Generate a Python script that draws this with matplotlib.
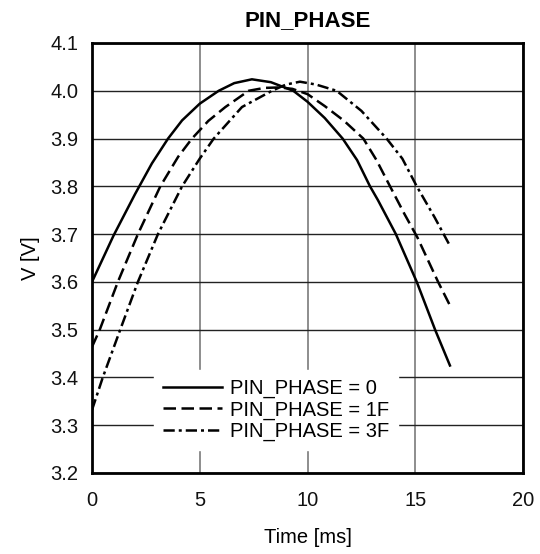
import matplotlib
matplotlib.use("Agg")
import matplotlib.pyplot as plt

plt.rcParams['font.family'] = ['Liberation Sans', 'DejaVu Sans']

# Data
t_solid = [0, 1, 2, 2.78, 3.53, 4.18, 5, 5.88, 6.6, 7.42, 8.3, 9.34, 10, 10.8,
           11.63, 12.3, 12.9, 13.27, 14.1, 15.07, 15.92, 16.61]
v_solid = [3.600, 3.697, 3.784, 3.848, 3.900, 3.938, 3.973, 4.000, 4.016, 4.024,
           4.018, 4.000, 3.977, 3.943, 3.900, 3.855, 3.800, 3.771, 3.700, 3.600,
           3.500, 3.425]

t_1f = [0, 0.36, 1.2, 2.13, 3.17, 4.0, 4.64, 5.4, 6.19, 7.27, 8.0, 8.7, 9.3, 10.0,
        10.8, 11.7, 12.59, 13.2, 13.83, 14.5, 15.1, 16.06, 16.64]
v_1f = [3.464, 3.500, 3.600, 3.700, 3.800, 3.862, 3.900, 3.937, 3.966, 4.000,
        4.006, 4.007, 4.004, 3.993, 3.968, 3.937, 3.900, 3.855, 3.800, 3.742,
        3.693, 3.600, 3.548]

t_3f = [0, 0.5, 1.31, 2.13, 3.06, 4.18, 5.0, 5.65, 6.96, 8.35, 9.0, 9.65, 10.4,
        11.35, 12.5, 13.67, 14.4, 15.07, 15.9, 16.64]
v_3f = [3.332, 3.400, 3.500, 3.600, 3.700, 3.800, 3.858, 3.900, 3.966, 4.000,
        4.013, 4.019, 4.013, 4.000, 3.958, 3.900, 3.858, 3.800, 3.735, 3.673]

labels = ['PIN_PHASE = 0', 'PIN_PHASE = 1F', 'PIN_PHASE = 3F']
x_ticks = [0, 5, 10, 15, 20]
y_ticks = [3.2, 3.3, 3.4, 3.5, 3.6, 3.7, 3.8, 3.9, 4.0, 4.1]

fig = plt.figure(figsize=(5.4, 5.54), dpi=100)
ax = fig.add_axes([92/540, 1 - 473/554, 431/540, 430/554])

lw = 1.8
common = dict(color='black', lw=lw, solid_joinstyle='round', dash_joinstyle='round')
ax.plot(t_solid, v_solid, linestyle='-', label=labels[0], **common)
ax.plot(t_1f, v_1f, linestyle=(0, (5, 2.2)), label=labels[1], **common)
ax.plot(t_3f, v_3f, linestyle=(0, (4.5, 1.6, 1.2, 1.6)), label=labels[2], **common)

ax.set_xlim(0, 20)
ax.set_ylim(3.2, 4.1)
ax.set_xticks(x_ticks)
ax.set_yticks(y_ticks)
ax.set_yticklabels([f'{v:.1f}' for v in y_ticks])
ax.tick_params(axis='both', length=0, labelsize=14.5, colors='#111111')
ax.tick_params(axis='x', pad=13)
ax.tick_params(axis='y', pad=10)

ax.xaxis.grid(True, color='#7a7a7a', lw=1.2)
ax.yaxis.grid(True, color='#222222', lw=1.0)
ax.set_axisbelow(True)
for s in ax.spines.values():
    s.set_linewidth(2.0)
    s.set_color('black')

ax.set_title('PIN_PHASE', fontsize=16, fontweight='bold', pad=12)
ax.set_xlabel('Time [ms]', fontsize=14.5, labelpad=13)
ax.set_ylabel('V [V]', fontsize=14.5, labelpad=7)

leg = ax.legend(loc='center', bbox_to_anchor=(0.427, 0.1465), fontsize=14.5,
                frameon=True, fancybox=False, framealpha=1, edgecolor='white',
                facecolor='white', handlelength=2.9, handletextpad=0.4,
                labelspacing=0.1, borderpad=0.45)

fig.savefig('out.png', dpi=100)
